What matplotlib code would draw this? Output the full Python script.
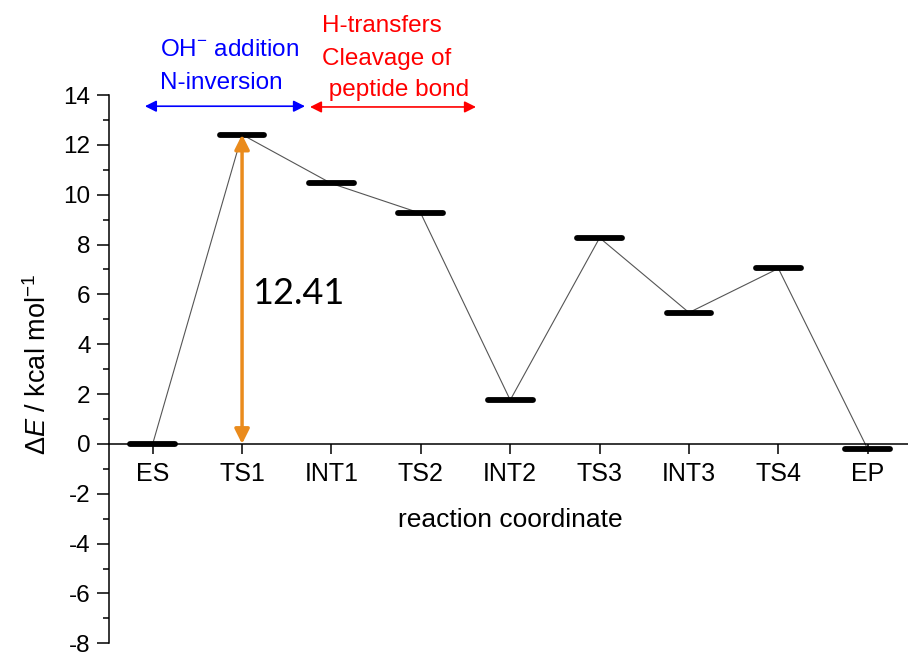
import matplotlib
matplotlib.use("Agg")
import matplotlib.pyplot as plt
from matplotlib.ticker import MultipleLocator

plt.rcParams['font.family'] = ['Liberation Sans', 'DejaVu Sans']
plt.rcParams['mathtext.fontset'] = 'custom'
plt.rcParams['mathtext.rm'] = 'Liberation Sans'
plt.rcParams['mathtext.it'] = 'Liberation Sans:italic'
plt.rcParams['axes.unicode_minus'] = False

# energy profile data
states = ["ES", "TS1", "INT1", "TS2", "INT2", "TS3", "INT3", "TS4", "EP"]
energies = [0.0, 12.41, 10.45, 9.25, 1.76, 8.27, 5.27, 7.04, -0.21]
barrier_label = "12.41"

xs = list(range(1, len(states) + 1))

fig = plt.figure(figsize=(9.08, 6.55), dpi=100)
ax = fig.add_axes([0.1204, 0.01786, 0.8796, 0.8371])

# thin connector through the level centres
ax.plot(xs, energies, color='#555555', lw=0.8, zorder=2)

# thick level bars
for x, e in zip(xs, energies):
    ax.plot([x - 0.25, x + 0.25], [e, e], color='black', lw=4.2,
            solid_capstyle='round', zorder=3)

ax.set_xlim(0.515, 9.45)
ax.set_ylim(-8, 14)

#spines
ax.spines['top'].set_visible(False)
ax.spines['right'].set_visible(False)
ax.spines['bottom'].set_position(('data', 0))
ax.spines['left'].set_linewidth(1.1)
ax.spines['bottom'].set_linewidth(1.1)

ax.set_xticks(xs)
ax.set_xticklabels(states)
ax.yaxis.set_major_locator(MultipleLocator(2))
ax.yaxis.set_minor_locator(MultipleLocator(1))
ax.tick_params(axis='y', which='major', direction='out', length=8.5, width=1.1,
               labelsize=17.5, pad=5)
ax.tick_params(axis='y', which='minor', direction='out', length=4.5, width=1.1)
ax.tick_params(axis='x', which='major', direction='out', length=7.5, width=1.1,
               labelsize=18, pad=5.5)

# barrier arrow
ax.annotate('', xy=(2, energies[1]), xytext=(2, 0),
            arrowprops=dict(arrowstyle='<|-|>', color='#EA8B1C', lw=2.5,
                            mutation_scale=22, shrinkA=0, shrinkB=0),
            zorder=4)
ax.text(2.11, 5.62, barrier_label, fontsize=26, family='Lato', va='baseline',
        ha='left')

# region arrows and labels
ax.annotate('', xy=(0.913, 13.55), xytext=(2.704, 13.55),
            arrowprops=dict(arrowstyle='<|-|>', color='#0000FF', lw=1.2,
                            mutation_scale=17, shrinkA=0, shrinkB=0),
            annotation_clip=False)
ax.annotate('', xy=(2.76, 13.52), xytext=(4.617, 13.52),
            arrowprops=dict(arrowstyle='<|-|>', color='#FF0000', lw=1.2,
                            mutation_scale=17, shrinkA=0, shrinkB=0),
            annotation_clip=False)

ax.text(1.08, 15.57, 'OH$^{-}$ addition', color='#0000FF', fontsize=17.5,
        va='baseline', ha='left', clip_on=False)
ax.text(1.08, 14.25, 'N-inversion', color='#0000FF', fontsize=17.5,
        va='baseline', ha='left', clip_on=False)
ax.text(2.894, 16.53, 'H-transfers', color='#FF0000', fontsize=17.5,
        va='baseline', ha='left', clip_on=False)
ax.text(2.894, 15.21, 'Cleavage of', color='#FF0000', fontsize=17.5,
        va='baseline', ha='left', clip_on=False)
ax.text(2.894, 13.96, ' peptide bond', color='#FF0000', fontsize=17.5,
        va='baseline', ha='left', clip_on=False)

ax.text(5.0, -3.33, 'reaction coordinate', fontsize=19, ha='center',
        va='baseline')
fig.text(0.0419, 0.4443, r'$\mathit{ΔE}$ / kcal mol$^{-1}$', fontsize=19.5,
         rotation=90, ha='center', va='center')

fig.savefig('out.png', dpi=100)
